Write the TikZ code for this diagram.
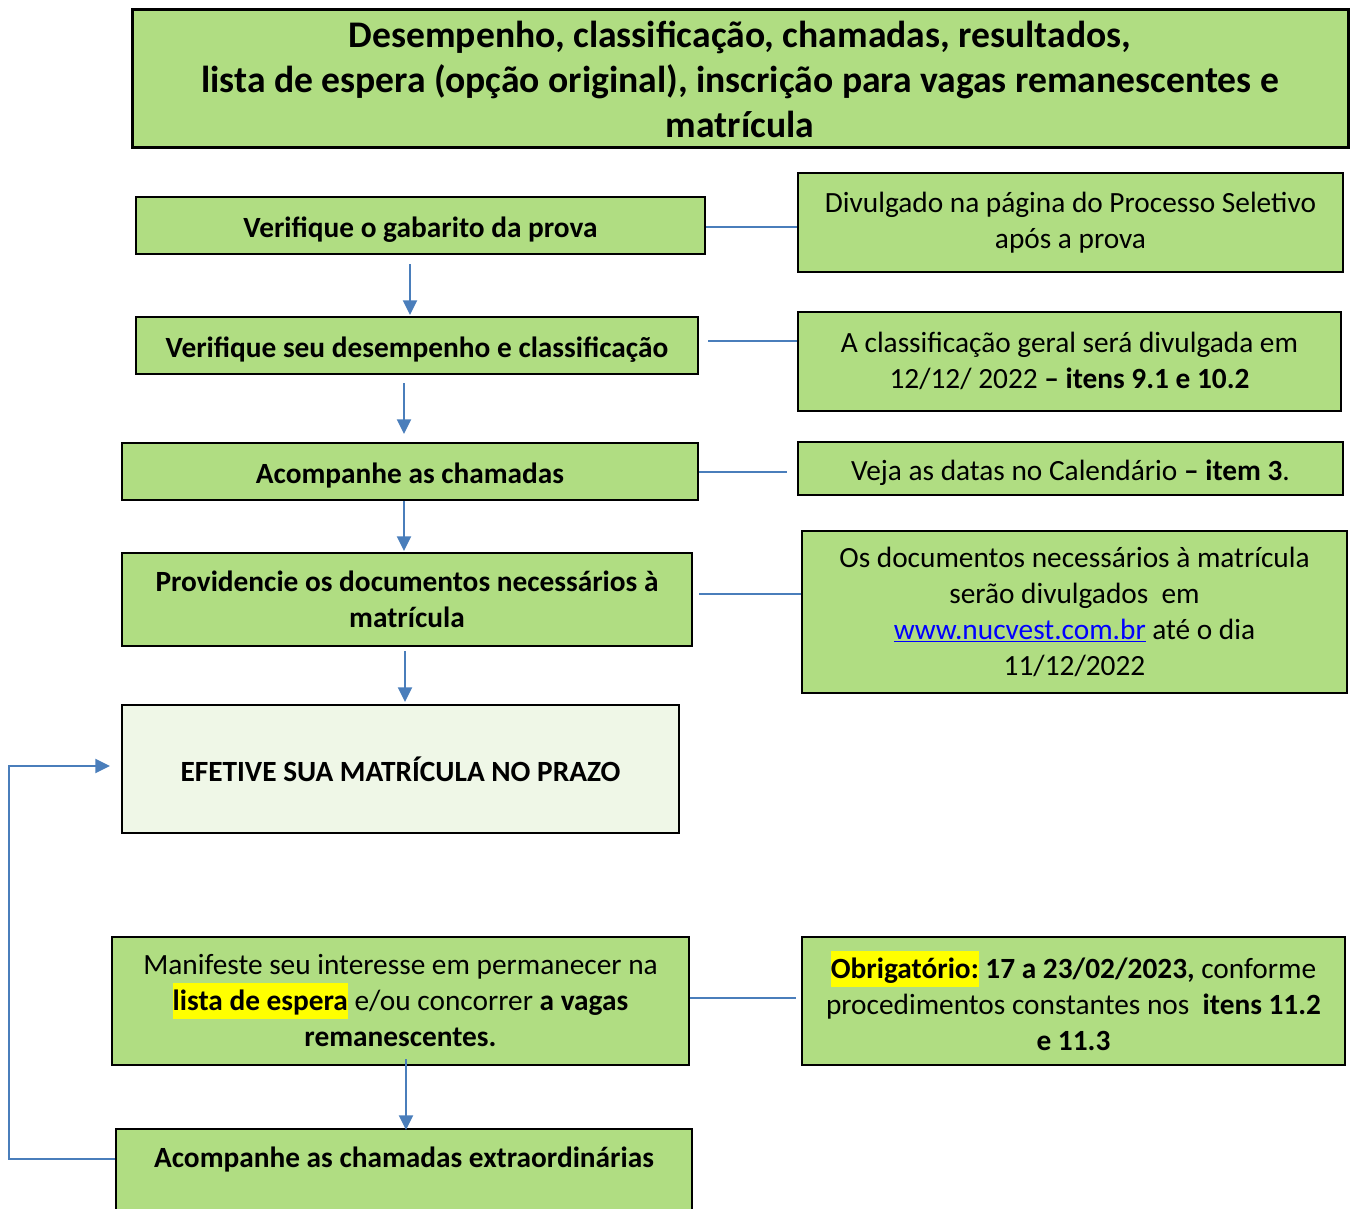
\documentclass[tikz,border=0pt]{standalone}
\usepackage{fontspec}
\setmainfont{Carlito}
\usetikzlibrary{calc,arrows.meta}
\definecolor{boxgreen}{RGB}{176,221,130}
\definecolor{palegreen}{RGB}{239,247,231}
\definecolor{lineblue}{RGB}{74,126,187}
\definecolor{hlyellow}{RGB}{255,255,0}
\definecolor{linkblue}{RGB}{0,0,255}
\newcommand\myhl[1]{{\setlength\fboxsep{0pt}\colorbox{hlyellow}{\rule[-6pt]{0pt}{27pt}#1}}}
\begin{document}
\begin{tikzpicture}[x=0.75pt,y=-0.75pt,
 box/.style={draw=black, line width=1.5pt, fill=boxgreen, inner sep=0pt, align=center, font=\fontsize{22}{27}\selectfont},
 oneline/.style={text height=21.5pt, text depth=4pt},
 conn/.style={draw=lineblue, line width=1.5pt},
 arr/.style={conn, -{Triangle[width=10.5pt,length=11pt]}}]
\useasboundingbox (0,0) rectangle (1353,1209);
% title
\node[box, line width=2.25pt, minimum width={1216*0.75pt}, minimum height={138*0.75pt}, font=\fontsize{28.2}{33.75}\selectfont\bfseries] (title) at (740,79)
 {Desempenho, classificação, chamadas, resultados,\\lista de espera (opção original), inscrição para vagas remanescentes e\\matrícula};
% left column
\node[box, oneline, minimum width={569*0.75pt}, minimum height={57*0.75pt}, font=\fontsize{22}{27}\selectfont\bfseries] (b1) at (420.5,225.5) {Verifique o gabarito da prova};
\node[box, oneline, minimum width={562*0.75pt}, minimum height={57*0.75pt}, font=\fontsize{22}{27}\selectfont\bfseries] (b2) at (417,345.5) {Verifique seu desempenho e classificação};
\node[box, oneline, minimum width={576*0.75pt}, minimum height={57*0.75pt}, font=\fontsize{22}{27}\selectfont\bfseries] (b3) at (410,471.5) {Acompanhe as chamadas};
\node[box, minimum width={570*0.75pt}, minimum height={93*0.75pt}, font=\fontsize{22}{27}\selectfont\bfseries] (b4) at (407,599.5) {Providencie os documentos necessários à\\matrícula};
\node[box, fill=palegreen, minimum width={557*0.75pt}, minimum height={128*0.75pt}, font=\fontsize{22}{27}\selectfont\bfseries] (b5) at (400.5,769) {EFETIVE SUA MATRÍCULA NO PRAZO};
\node[box, minimum width={577*0.75pt}, minimum height={128*0.75pt}] (b6) at (400.5,1001)
 {Manifeste seu interesse em permanecer na\\\myhl{\textbf{lista de espera}} e/ou concorrer \textbf{a vagas}\\\textbf{remanescentes.}};
\node[box, anchor=north, minimum width={576*0.75pt}, text height=28.5pt, text depth=60pt, font=\fontsize{22}{27}\selectfont\bfseries] (b7) at (404,1128) {Acompanhe as chamadas extraordinárias};
% right column
\node[box, minimum width={545*0.75pt}, minimum height={99*0.75pt}] (r1) at (1070.5,222.5) {Divulgado na página do Processo Seletivo\\após a prova};
\node[box, minimum width={543*0.75pt}, minimum height={99*0.75pt}] (r2) at (1069.5,361) {A classificação geral será divulgada em\\12/12/ 2022 \textbf{– itens 9.1 e 10.2}};
\node[box, oneline, minimum width={545*0.75pt}, minimum height={53*0.75pt}] (r3) at (1070.5,468.5) {Veja as datas no Calendário \textbf{– item 3}.};
\node[box, minimum width={545*0.75pt}, minimum height={162*0.75pt}] (r4) at (1074.5,612)
 {Os documentos necessários à matrícula\\serão divulgados \ em\\{\color{linkblue}\underline{www.nucvest.com.br}} até o dia\\11/12/2022};
\node[box, minimum width={543*0.75pt}, minimum height={128*0.75pt}] (r6) at (1073.5,1001)
 {\myhl{\textbf{Obrigatório:}} \textbf{17 a 23/02/2023,} conforme\\procedimentos constantes nos \ \textbf{itens 11.2}\\\textbf{e 11.3}};
% horizontal connectors
\draw[conn] ($(b1.east)+(0,1.5)$) -- ($(b1.east -| r1.west)+(0,1.5)$);
\draw[conn] ($(b2.east)+(9,-4.5)$) -- ($(b2.east -| r2.west)+(0,-4.5)$);
\draw[conn] (b3.east) -- ($(b3.east -| r3.west)+(-10,0)$);
\draw[conn] ($(b4.east)+(6,-5.5)$) -- ($(b4.east -| r4.west)+(0,-5.5)$);
\draw[conn] ($(b6.east)+(0,-3)$) -- ($(b6.east -| r6.west)+(-5,-3)$);
% vertical arrows
\draw[arr] ($(b1.south)+(-10.5,9)$) coordinate (a1) -- ($(a1 |- b2.north)+(0,-1)$);
\draw[arr] ($(b2.south)+(-13,8)$) coordinate (a2) -- ($(a2 |- b3.north)+(0,-8)$);
\draw[arr] ($(b3.south)+(-6,0)$) coordinate (a3) -- ($(a3 |- b4.north)+(0,-1)$);
\draw[arr] ($(b4.south)+(-2,4)$) coordinate (a4) -- ($(a4 |- b5.north)+(0,-2)$);
\draw[arr] ($(b6.south)+(5.5,-7)$) coordinate (a5) -- ($(a5 |- b7.north)+(0,2)$);
% loop back
\draw[arr] ($(b7.north west)+(0,31)$) -- ++(-106,0) |- ($(b5.west)+(-11,-3)$);
\end{tikzpicture}
\end{document}
